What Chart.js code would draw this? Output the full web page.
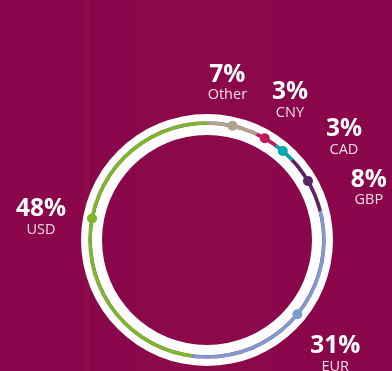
<!DOCTYPE html>
<html>
<head>
<meta charset="utf-8">
<script src="https://cdn.jsdelivr.net/npm/chart.js@4.4.1/dist/chart.umd.min.js"></script>
<style>
    html, body {
        margin: 0;
        padding: 0;
        width: 392px;
        height: 371px;
        overflow: hidden;
    }
    body {
        background-color: #8a0549;
        background-image:
            linear-gradient(90deg, rgba(255,255,255,0) 0px, rgba(255,255,255,0) 83px, rgba(255,255,255,0.025) 84px, rgba(255,255,255,0.025) 89px, rgba(255,255,255,0) 90px),
            linear-gradient(90deg, rgba(255,255,255,0) 0px, rgba(255,255,255,0) 135px, rgba(255,255,255,0.012) 136px, rgba(255,255,255,0.012) 270px, rgba(255,255,255,0) 272px);
    }
    #chart {
        display: block;
    }
</style>
</head>
<body>
<canvas id="chart" width="392" height="371"></canvas>
<script>
// currency share, clockwise from 12 o'clock
const currencies = ['Other', 'CNY', 'CAD', 'GBP', 'EUR', 'USD'];
const shares = [7, 3, 3, 8, 31, 48];

const lineColors = ['#b0a592', '#c2195f', '#00a6b2', '#5a2466', '#7c9bd1', '#7ab92b'];

// label placement around the ring: angle shift (deg) from segment middle, distance from centre
const labelShift = [-5.2, 0.2, 11.8, 11, 0.4, 4.1];
const labelDist = [158, 162, 171, 170, 172, 167.5];
// marker shift (deg) from segment middle
const dotShift = [0, -1, -1, -1.5, -2, 7];

const toRad = Math.PI / 180;

// dots sitting on the coloured line
const dotPlugin = {
    id: 'lineDots',
    afterDatasetsDraw(chart) {
        const meta = chart.getDatasetMeta(1);
        const ctx = chart.ctx;
        meta.data.forEach(function (arc, i) {
            const p = arc.getProps(['x', 'y', 'startAngle', 'endAngle', 'innerRadius', 'outerRadius'], true);
            const a = (p.startAngle + p.endAngle) / 2 + dotShift[i] * toRad;
            const r = (p.innerRadius + p.outerRadius) / 2;
            ctx.save();
            ctx.fillStyle = lineColors[i];
            ctx.beginPath();
            ctx.arc(p.x + r * Math.cos(a), p.y + r * Math.sin(a), 5, 0, Math.PI * 2);
            ctx.fill();
            ctx.restore();
        });
    }
};

// percentage + currency name outside the ring
const labelPlugin = {
    id: 'outsideLabels',
    afterDraw(chart) {
        const meta = chart.getDatasetMeta(1);
        const ctx = chart.ctx;
        meta.data.forEach(function (arc, i) {
            const p = arc.getProps(['x', 'y', 'startAngle', 'endAngle'], true);
            const a = (p.startAngle + p.endAngle) / 2 + labelShift[i] * toRad;
            const x = p.x + labelDist[i] * Math.cos(a);
            const y = p.y + labelDist[i] * Math.sin(a);
            ctx.save();
            ctx.textAlign = 'center';
            ctx.textBaseline = 'alphabetic';
            ctx.fillStyle = '#ffffff';
            ctx.font = 'bold 24.5px "Open Sans"';
            ctx.fillText(shares[i] + '%', x, y - 1.5);
            ctx.fillStyle = '#f4dde8';
            ctx.font = '14.5px "Open Sans"';
            ctx.fillText(currencies[i], x, y + 16);
            ctx.restore();
        });
    }
};

const ringBase = {
    borderWidth: 0,
    hoverOffset: 0,
    offset: 0
};

new Chart(document.getElementById('chart').getContext('2d'), {
    type: 'doughnut',
    data: {
        labels: currencies,
        datasets: [
            Object.assign({ data: [1], backgroundColor: ['#ffffff'], weight: 7.3 }, ringBase),
            Object.assign({ data: shares, backgroundColor: lineColors, weight: 3.5 }, ringBase),
            Object.assign({ data: [1], backgroundColor: ['#ffffff'], weight: 10.2 }, ringBase)
        ]
    },
    options: {
        responsive: false,
        animation: false,
        cutout: 105,
        layout: {
            padding: { left: 81, top: 114, right: 59, bottom: 5 }
        },
        plugins: {
            legend: { display: false },
            tooltip: { enabled: false }
        },
        events: []
    },
    plugins: [dotPlugin, labelPlugin]
});
</script>
</body>
</html>
